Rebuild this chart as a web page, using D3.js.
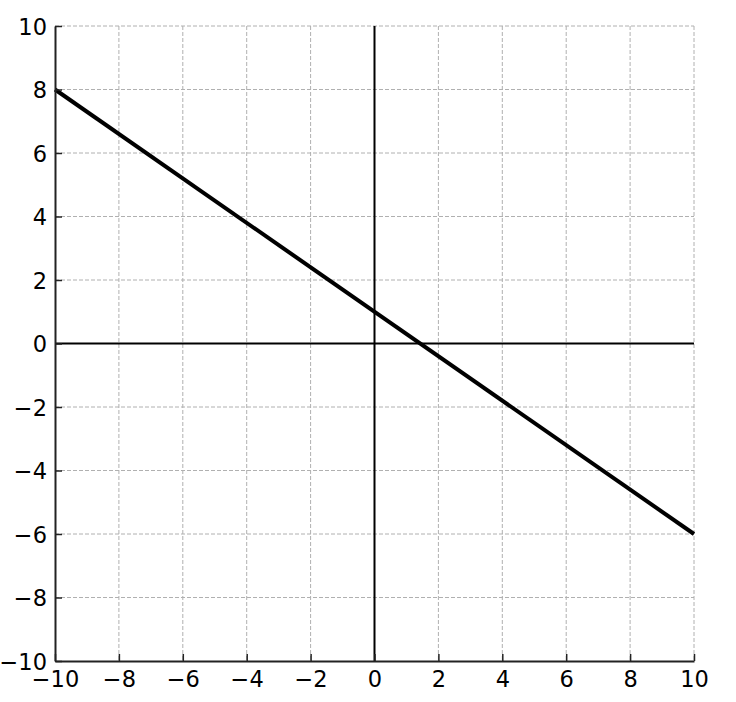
<!DOCTYPE html>
<html>
<head>
<meta charset="utf-8">
<script src="https://cdn.jsdelivr.net/npm/d3@7"></script>
<style>
  body { margin: 0; background: #fff; }
</style>
</head>
<body>
<svg id="chart" width="736" height="702"></svg>
<script>
const xTicks = [-10, -8, -6, -4, -2, 0, 2, 4, 6, 8, 10];
const yTicks = [-10, -8, -6, -4, -2, 0, 2, 4, 6, 8, 10];
const lineX = [-10, 10];
const lineY = [8, -6];

const svg = d3.select("#chart");
const plotLeft = 55, plotRight = 694, plotTop = 26, plotBottom = 661;

const x = d3.scaleLinear().domain([-10, 10]).range([plotLeft, plotRight]);
const y = d3.scaleLinear().domain([-10, 10]).range([plotBottom, plotTop]);
const fmt = d => d < 0 ? "\u2212" + Math.abs(d) : String(d);

// grid
const grid = svg.append("g");
grid.selectAll(".gx").data(xTicks.slice(1)).join("line")
  .attr("x1", d => x(d)).attr("x2", d => x(d))
  .attr("y1", plotTop).attr("y2", plotBottom)
  .attr("stroke", "#b0b0b0").attr("stroke-width", 1).attr("stroke-dasharray", "4,2");
grid.selectAll(".gy").data(yTicks.slice(1)).join("line")
  .attr("y1", d => y(d)).attr("y2", d => y(d))
  .attr("x1", plotLeft).attr("x2", plotRight)
  .attr("stroke", "#b0b0b0").attr("stroke-width", 1).attr("stroke-dasharray", "4,2");

// zero axes
svg.append("line").attr("x1", x(0)).attr("x2", x(0)).attr("y1", plotTop).attr("y2", plotBottom)
  .attr("stroke", "#000").attr("stroke-width", 2);
svg.append("line").attr("x1", plotLeft).attr("x2", plotRight).attr("y1", y(0)).attr("y2", y(0))
  .attr("stroke", "#000").attr("stroke-width", 2);

// the line
svg.append("path")
  .datum(lineX.map((d, i) => [d, lineY[i]]))
  .attr("d", d3.line().x(d => x(d[0])).y(d => y(d[1])))
  .attr("fill", "none").attr("stroke", "#000").attr("stroke-width", 4);

// axes, ticks inward
const xAxis = svg.append("g").attr("transform", `translate(0,${plotBottom})`)
  .call(d3.axisBottom(x).tickValues(xTicks).tickFormat(fmt).tickSizeInner(-7).tickSizeOuter(0).tickPadding(10));
const yAxis = svg.append("g").attr("transform", `translate(${plotLeft},0)`)
  .call(d3.axisLeft(y).tickValues(yTicks).tickFormat(fmt).tickSizeInner(-7).tickSizeOuter(0).tickPadding(8));

[xAxis, yAxis].forEach(a => {
  a.attr("font-family", null).attr("font-size", null);
  a.select(".domain").attr("stroke", "#222").attr("stroke-width", 2);
  a.selectAll(".tick line").attr("stroke", "#222").attr("stroke-width", 1.5);
  a.selectAll(".tick text").attr("fill", "#000")
    .style("font-family", "'DejaVu Sans'").style("font-size", "22.5px");
});
xAxis.selectAll(".tick text").attr("dy", "0.71em");
yAxis.selectAll(".tick text").attr("dy", "0.36em");
</script>
</body>
</html>
